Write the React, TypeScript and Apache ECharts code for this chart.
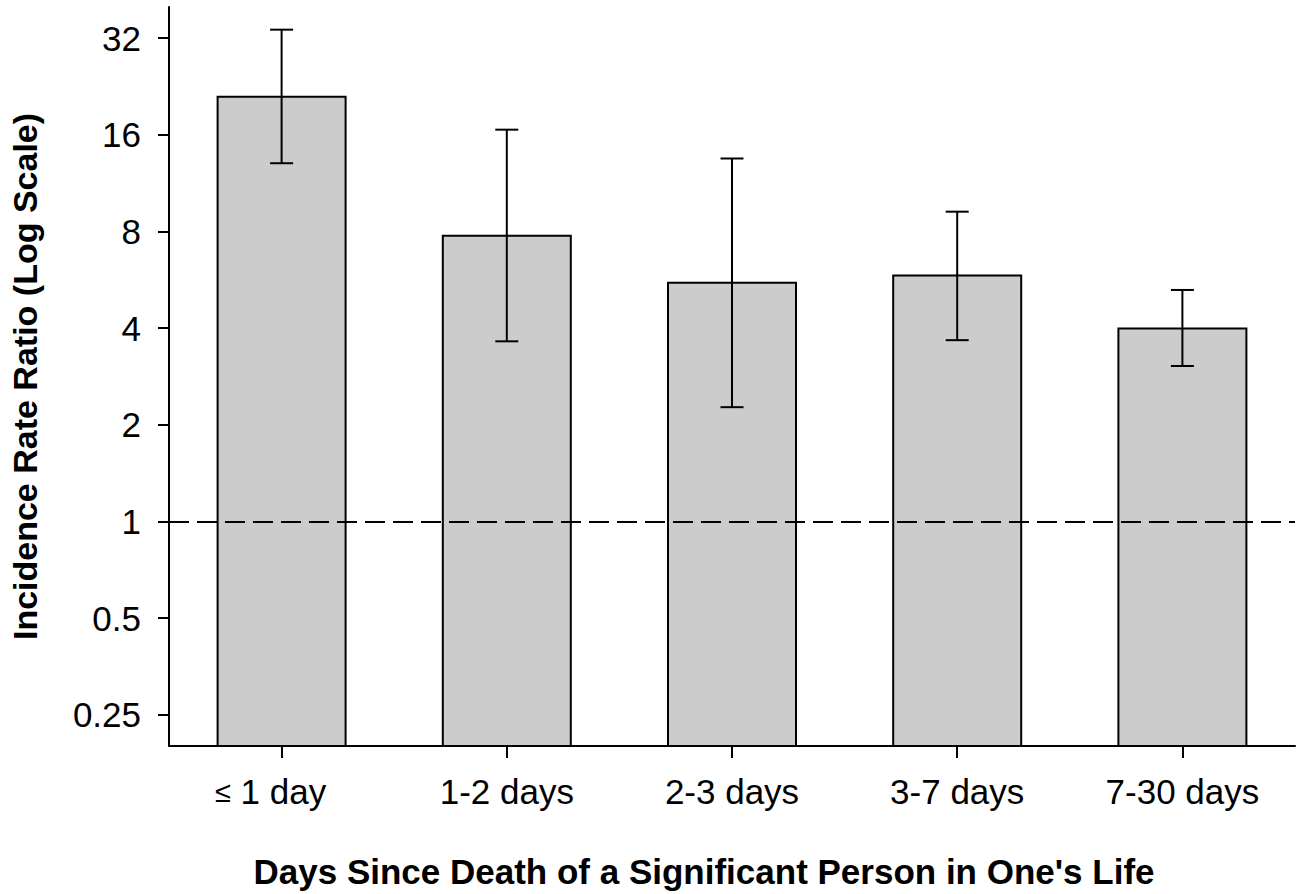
import React, { useEffect, useRef } from "react";
import * as echarts from "echarts";

const categories = ["≤ 1 day", "1-2 days", "2-3 days", "3-7 days", "7-30 days"];
const ratios = [21.0, 7.76, 5.54, 5.84, 3.99];
const lowerCI = [13.05, 3.64, 2.27, 3.67, 3.05];
const upperCI = [34.0, 16.6, 13.5, 9.22, 5.26];
const yTicks = [0.25, 0.5, 1, 2, 4, 8, 16, 32];
const referenceLine = 1;

const FONT = '"Liberation Sans", Arial, Helvetica, sans-serif';
const BAR_WIDTH = 128;
const CAP_HALF = 11.5;

export default function App() {
  const ref = useRef<HTMLDivElement | null>(null);
  useEffect(() => {
    if (!ref.current) return;
    const chart = echarts.init(ref.current, undefined, { renderer: "svg" });
    const barData = categories.map((_, i) => [i, ratios[i]]);
    const errData = categories.map((_, i) => [i, lowerCI[i], upperCI[i]]);
    chart.setOption({
      animation: false,
      backgroundColor: "#ffffff",
      textStyle: { fontFamily: FONT },
      grid: { left: 169, right: 8, top: 7, bottom: 148, containLabel: false, outerBoundsMode: "none" },
      xAxis: {
        type: "category",
        data: categories,
        boundaryGap: true,
        axisLine: { show: true, lineStyle: { color: "#000", width: 2 } },
        axisTick: { show: true, alignWithLabel: true, length: 12, lineStyle: { color: "#000", width: 2 } },
        axisLabel: {
          color: "#000",
          fontSize: 35,
          fontFamily: FONT,
          margin: 28,
          interval: 0,
          hideOverlap: false,
          formatter: (v: string) => (v.startsWith("≤") ? "{s|≤}{t|" + v.slice(1) + "}" : v),
          rich: {
            s: { fontSize: 29, fontFamily: FONT, color: "#000" },
            t: { fontSize: 35, fontFamily: FONT, color: "#000", padding: [0, 22, 0, 0] },
          },
        },
        splitLine: { show: false },
        name: "Days Since Death of a Significant Person in One's Life",
        nameLocation: "middle",
        nameGap: 108,
        nameTextStyle: {
          color: "#000",
          fontSize: 35,
          fontWeight: "bold",
          fontFamily: FONT,
          padding: [0, 56, 0, 0],
        },
      },
      yAxis: {
        type: "log",
        logBase: 2,
        min: 0.2,
        max: 40,
        axisLine: { show: true, lineStyle: { color: "#000", width: 2 } },
        axisTick: { show: true, length: 11, customValues: yTicks, lineStyle: { color: "#000", width: 2 } },
        axisLabel: {
          color: "#000",
          fontSize: 35,
          fontFamily: FONT,
          margin: 28,
          customValues: yTicks,
          formatter: (v: number) => String(Math.round(v * 100) / 100),
        },
        splitLine: { show: false },
        name: "Incidence Rate Ratio (Log Scale)",
        nameLocation: "middle",
        nameGap: 127,
        nameTextStyle: { color: "#000", fontSize: 34, fontWeight: "bold", fontFamily: FONT },
      },
      series: [
        {
          type: "custom",
          z: 2,
          data: barData,
          encode: { x: 0, y: 1 },
          renderItem: (params: any, api: any) => {
            const idx = api.value(0);
            const top = api.coord([idx, api.value(1)]);
            const bottom = params.coordSys.y + params.coordSys.height;
            return {
              type: "rect",
              shape: { x: top[0] - BAR_WIDTH / 2, y: top[1], width: BAR_WIDTH, height: bottom - top[1] },
              style: { fill: "#cccccc", stroke: "#000", lineWidth: 2 },
            };
          },
          markLine: {
            silent: true,
            symbol: "none",
            label: { show: false },
            lineStyle: { color: "#000", width: 2, type: [20, 8] },
            data: [{ yAxis: referenceLine }],
            z: 10,
          },
        },
        {
          type: "custom",
          z: 5,
          data: errData,
          encode: { x: 0, y: [1, 2] },
          renderItem: (params: any, api: any) => {
            const idx = api.value(0);
            const lo = api.coord([idx, api.value(1)]);
            const hi = api.coord([idx, api.value(2)]);
            const style = { stroke: "#000", lineWidth: 2 };
            return {
              type: "group",
              children: [
                { type: "line", shape: { x1: hi[0], y1: hi[1], x2: lo[0], y2: lo[1] }, style },
                { type: "line", shape: { x1: hi[0] - CAP_HALF, y1: hi[1], x2: hi[0] + CAP_HALF, y2: hi[1] }, style },
                { type: "line", shape: { x1: lo[0] - CAP_HALF, y1: lo[1], x2: lo[0] + CAP_HALF, y2: lo[1] }, style },
              ],
            };
          },
        },
      ],
    });
    return () => chart.dispose();
  }, []);
  return (
    <div
      ref={ref}
      style={{ position: "absolute", left: 0, top: 0, width: 1303, height: 894, background: "#fff" }}
    />
  );
}
